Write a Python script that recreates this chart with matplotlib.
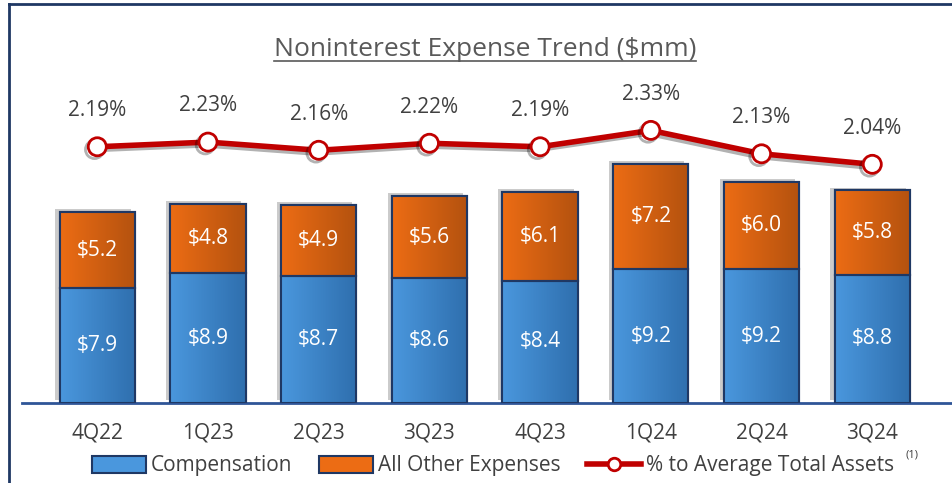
import matplotlib
matplotlib.use("Agg")
import matplotlib.pyplot as plt
import matplotlib.patheffects as pe
from matplotlib.lines import Line2D
from matplotlib.patches import Patch
import numpy as np

plt.rcParams['font.family'] = ['Open Sans', 'DejaVu Sans']

quarters = ["4Q22", "1Q23", "2Q23", "3Q23", "4Q23", "1Q24", "2Q24", "3Q24"]
compensation = [7.9, 8.9, 8.7, 8.6, 8.4, 9.2, 9.2, 8.8]
other_expenses = [5.2, 4.8, 4.9, 5.6, 6.1, 7.2, 6.0, 5.8]
pct_assets = [2.19, 2.23, 2.16, 2.22, 2.19, 2.33, 2.13, 2.04]

blue_l, blue_d = "#4a97dd", "#2f6fae"
orange_l, orange_d = "#ec6c14", "#b4520f"
navy = "#1f3864"
red = "#c00000"
gray = "#404040"

fig = plt.figure(figsize=(9.53, 4.83), dpi=100)
ax = fig.add_axes([22 / 953, 80 / 483, 930 / 953, 343 / 483])
ax2 = ax.twinx()

x = np.arange(len(quarters))
w = 0.68
shadow = [pe.SimplePatchShadow(offset=(-3, 2), shadow_rgbFace="#999999", alpha=0.5), pe.Normal()]

def gradient_bars(bars, c1, c2):
    grad = np.linspace(0, 1, 64).reshape(1, -1)
    cmap = matplotlib.colors.LinearSegmentedColormap.from_list("g", [c1, c2])
    for b in bars:
        x0, y0 = b.get_x(), b.get_y()
        im = ax.imshow(grad, cmap=cmap, aspect="auto", zorder=2.5,
                       extent=[x0, x0 + b.get_width(), y0, y0 + b.get_height()])
        im.set_clip_path(b)

b1 = ax.bar(x, compensation, w, color=blue_l, edgecolor=navy, linewidth=1.5, zorder=2)
b2 = ax.bar(x, other_expenses, w, bottom=compensation, color=orange_l, edgecolor=navy,
            linewidth=1.5, zorder=2)
for b in list(b1) + list(b2):
    b.set_path_effects(shadow)
gradient_bars(b1, blue_l, blue_d)
gradient_bars(b2, orange_l, orange_d)
# redraw edges above gradient
for b in list(b1) + list(b2):
    ax.add_patch(plt.Rectangle((b.get_x(), b.get_y()), b.get_width(), b.get_height(),
                               fill=False, edgecolor=navy, linewidth=1.5, zorder=3))

for i in range(len(quarters)):
    ax.text(x[i], compensation[i] / 2, f"${compensation[i]:.1f}", ha="center", va="center",
            color="white", fontsize=15, zorder=4)
    ax.text(x[i], compensation[i] + other_expenses[i] / 2, f"${other_expenses[i]:.1f}",
            ha="center", va="center", color="white", fontsize=15, zorder=4)

ax.set_xlim(-0.68, 7.72)
ax.set_ylim(0, 343 / 14.56)
ax2.set_ylim(0, 343 / 117)

ax2.plot(x, pct_assets, color=red, linewidth=4, marker="o", markersize=13,
         markerfacecolor="white", markeredgecolor=red, markeredgewidth=2, zorder=5,
         path_effects=[pe.SimpleLineShadow(offset=(-2, -2), alpha=0.3), pe.Normal()])
for i, v in enumerate(pct_assets):
    ax2.annotate(f"{v:.2f}%", (x[i], v), xytext=(0, 26), textcoords="offset points",
                 ha="center", va="center", fontsize=15, color=gray)

for a in (ax, ax2):
    for s in ["top", "right", "left"]:
        a.spines[s].set_visible(False)
    a.set_yticks([])
ax.spines["bottom"].set_visible(True)
ax.spines["bottom"].set_color("#2f5597")
ax.spines["bottom"].set_linewidth(2)
ax2.spines["bottom"].set_visible(False)
ax.set_xticks(x)
ax.set_xticklabels(quarters, fontsize=15, color=gray)
ax.tick_params(axis="x", length=0, pad=14)

# title with underline
title = fig.text(0.509, 1 - 50 / 483, "Noninterest Expense Trend ($mm)", ha="center", va="center",
                 fontsize=19, color="#595959")
fig.canvas.draw()
bb = title.get_window_extent().transformed(fig.transFigure.inverted())
fig.add_artist(Line2D([bb.x0, bb.x1], [bb.y0 + 0.004, bb.y0 + 0.004], color="#595959", linewidth=1.2))

# frame
fig.add_artist(Line2D([9 / 953, 9 / 953], [0, 1 - 4 / 483], color=navy, linewidth=2))
fig.add_artist(Line2D([9 / 953, 1], [1 - 4 / 483, 1 - 4 / 483], color=navy, linewidth=2))

handles = [Patch(facecolor=blue_l, edgecolor=navy, linewidth=1.5),
           Patch(facecolor=orange_l, edgecolor=navy, linewidth=1.5),
           Line2D([], [], color=red, linewidth=4, marker="o", markersize=9,
                  markerfacecolor="white", markeredgecolor=red, markeredgewidth=2)]
fig.legend(handles, ["Compensation", "All Other Expenses", "% to Average Total Assets"],
           loc="center", bbox_to_anchor=(493 / 953, 1 - 466 / 483), ncol=3, frameon=False,
           fontsize=15, labelcolor=gray, handlelength=2.6, handleheight=0.9,
           handletextpad=0.2, columnspacing=1.3)
fig.text(912 / 953, 1 - 455 / 483, "(1)", fontsize=8, color=gray, ha="center", va="center")

fig.savefig("out.png", dpi=100)
